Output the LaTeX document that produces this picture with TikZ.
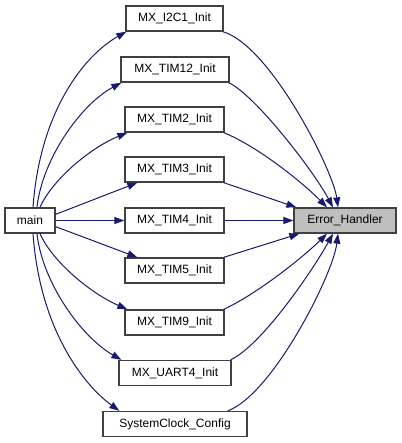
\documentclass[tikz,border=0pt]{standalone}
\usepackage{fontspec}
\setmainfont{Liberation Sans}
\usetikzlibrary{arrows.meta}
\definecolor{edgeblue}{HTML}{191970}
\definecolor{boxgray}{HTML}{BFBFBF}
\definecolor{boxline}{HTML}{404040}
\tikzset{
  fbox/.style={draw=boxline, line width=1.3pt, fill=white, minimum height=25pt, inner sep=0pt, font=\fontsize{12}{14}\selectfont},
  call/.style={draw=edgeblue, line width=1pt, -{Triangle[length=10pt,width=7pt]}}
}
\begin{document}
\begin{tikzpicture}[x=1pt,y=-1pt]
\useasboundingbox[fill=white] (0,0) rectangle (401,443);
\node[fbox, minimum width=50pt]  (main) at (30,220.5) {main};
\node[fbox, minimum width=102pt, fill=boxgray] (eh) at (345,220.5) {Error\_Handler};
\node[fbox, minimum width=97pt]  (i2c)  at (174.5,18.5) {MX\_I2C1\_Init};
\node[fbox, minimum width=108pt] (t12)  at (175,69.5) {MX\_TIM12\_Init};
\node[fbox, minimum width=99pt]  (t2)   at (174.5,119.5) {MX\_TIM2\_Init};
\node[fbox, minimum width=99pt]  (t3)   at (174.5,169.5) {MX\_TIM3\_Init};
\node[fbox, minimum width=99pt]  (t4)   at (174.5,220.5) {MX\_TIM4\_Init};
\node[fbox, minimum width=99pt]  (t5)   at (174.5,270.5) {MX\_TIM5\_Init};
\node[fbox, minimum width=99pt]  (t9)   at (174.5,322.5) {MX\_TIM9\_Init};
\node[fbox, minimum width=112pt] (u4)   at (175,373) {MX\_UART4\_Init};
\node[fbox, minimum width=144pt] (sc)   at (175,424) {SystemClock\_Config};
% main -> callees
\draw[call] ([xshift=3]main.north) .. controls (40,110) and (85,55) .. ([xshift=1]i2c.south west);
\draw[call] ([xshift=7]main.north) .. controls (42,160) and (80,105) .. ([xshift=1]t12.south west);
\draw[call] ([xshift=10]main.north) .. controls (52,180) and (90,148) .. ([xshift=3]t2.south west);
\draw[call] ([yshift=-7]main.north east) -- ([xshift=13]t3.south west);
\draw[call] (main.east) -- (t4.west);
\draw[call] ([yshift=7]main.south east) -- ([xshift=13]t5.north west);
\draw[call] ([xshift=10]main.south) .. controls (52,261) and (90,293) .. ([xshift=3]t9.north west);
\draw[call] ([xshift=7]main.south) .. controls (42,281) and (80,336) .. ([xshift=3]u4.north west);
\draw[call] ([xshift=3]main.south) .. controls (40,331) and (85,386) .. ([xshift=17]sc.north west);
% callees -> Error_Handler
\draw[call] ([xshift=-1]i2c.south east) .. controls (270,45) and (333,170) .. ([xshift=-7]eh.north);
\draw[call] ([xshift=-1]t12.south east) .. controls (255,95) and (313,170) .. ([xshift=-12]eh.north);
\draw[call] ([xshift=-1]t2.south east) .. controls (255,145) and (300,180) .. ([xshift=-18]eh.north);
\draw[call] ([xshift=-1]t3.south east) -- ([xshift=3]eh.north west);
\draw[call] (t4.east) -- (eh.west);
\draw[call] ([xshift=-1]t5.north east) -- ([xshift=6]eh.south west);
\draw[call] ([xshift=-1]t9.north east) .. controls (255,295) and (300,260) .. ([xshift=-18]eh.south);
\draw[call] ([xshift=-1]u4.north east) .. controls (262,345) and (313,270) .. ([xshift=-12]eh.south);
\draw[call] ([xshift=-20]sc.north east) .. controls (272,395) and (333,275) .. ([xshift=-7]eh.south);
\end{tikzpicture}
\end{document}
